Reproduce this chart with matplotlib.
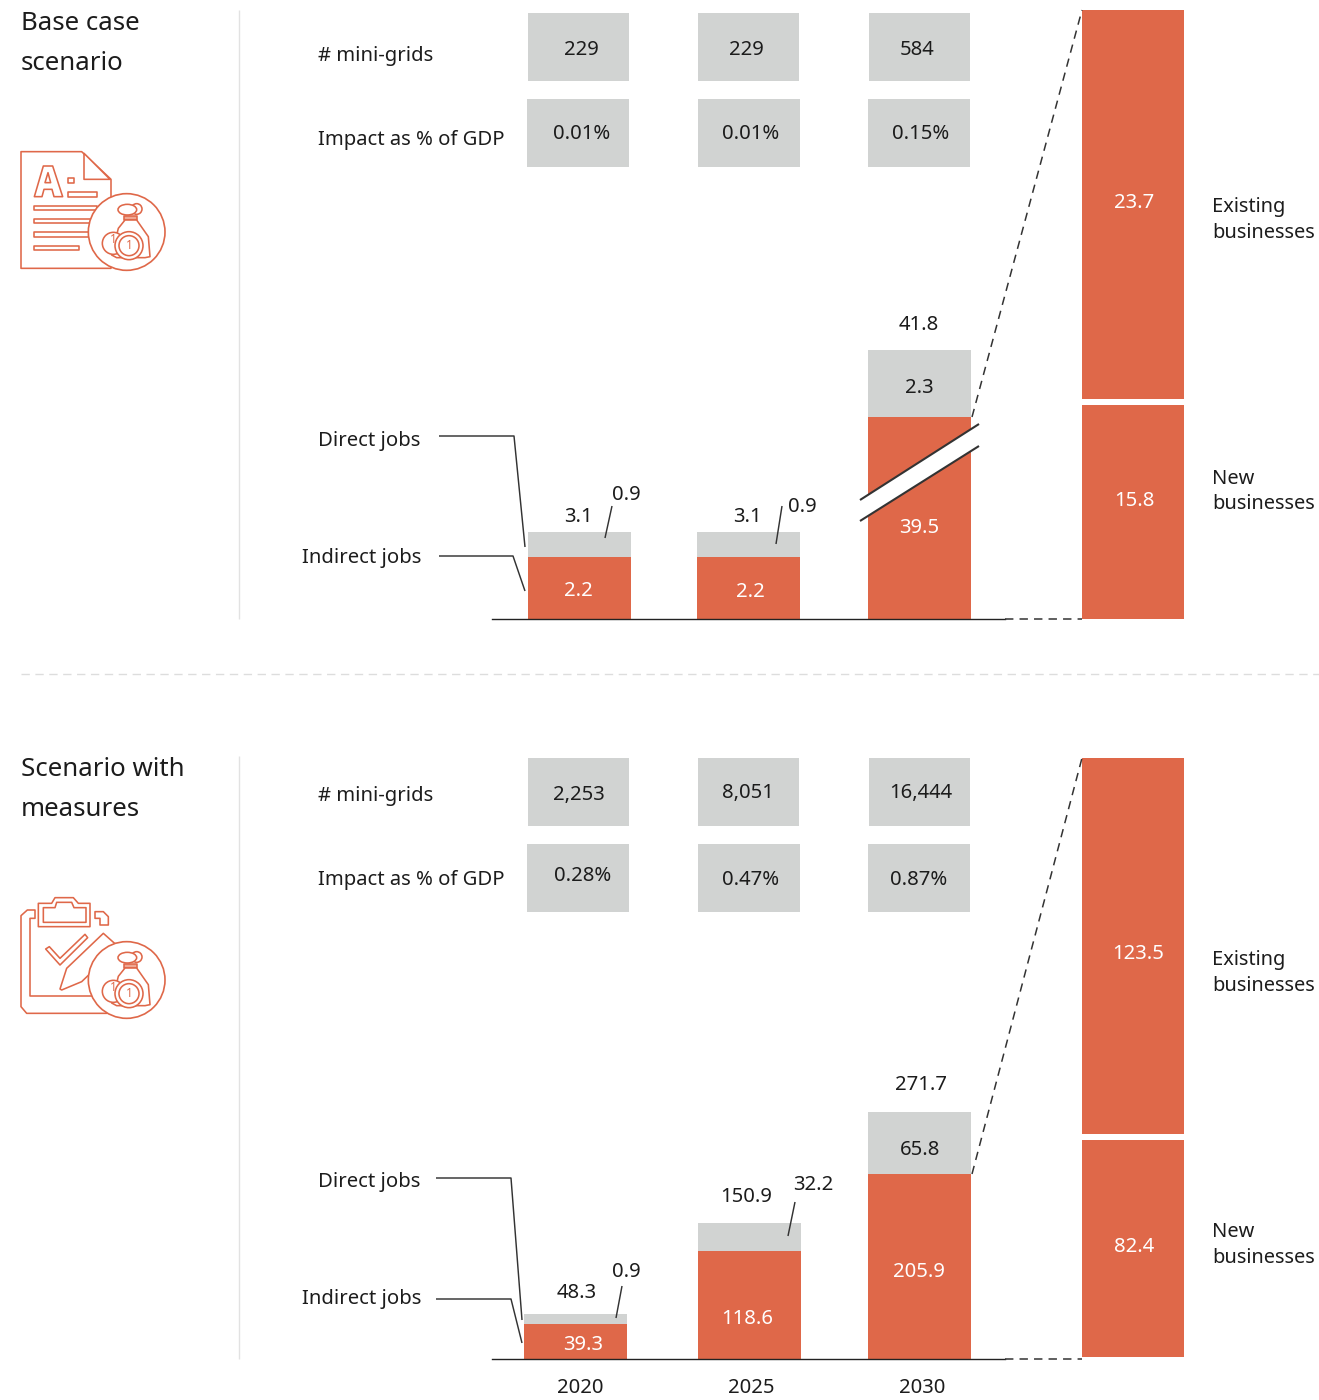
import numpy as np
import matplotlib
matplotlib.use("Agg")
import matplotlib.pyplot as plt
from matplotlib.patches import Rectangle, Polygon, Circle, Ellipse

# ---------- data ----------
years = ["2020", "2025", "2030"]
grid_labels = ["# mini-grids", "Impact as % of GDP"]
base_grids = ["229", "229", "584"]
base_gdp = ["0.01%", "0.01%", "0.15%"]
meas_grids = ["2,253", "8,051", "16,444"]
meas_gdp = ["0.28%", "0.47%", "0.87%"]

base_total = [3.1, 3.1, 41.8]
base_indirect = [2.2, 2.2, 39.5]
base_direct = [0.9, 0.9, 2.3]
base_new = 15.8
base_existing = 23.7

meas_total = [48.3, 150.9, 271.7]
meas_indirect = [39.3, 118.6, 205.9]
meas_direct = [0.9, 32.2, 65.8]
meas_new = 82.4
meas_existing = 123.5

# ---------- style ----------
W, H = 1319, 1400
ORANGE = "#DF6849"
GRAY = "#D1D3D2"
INK = "#1c1c1c"
LINE = "#333333"
plt.rcParams["font.family"] = ["Noto Sans", "DejaVu Sans"]
FS = 14.6

fig = plt.figure(figsize=(W / 100, H / 100), dpi=100, facecolor="white")


def axpx(x0, y0, x1, y1):
    """Axes from pixel box (y measured from the top)."""
    return fig.add_axes([x0 / W, 1 - y1 / H, (x1 - x0) / W, (y1 - y0) / H])


def main_chart(y_top, y_base, knots_v, knots_px, total, indirect, centers, show_years):
    ax = axpx(492, y_top, 1005, y_base)
    ax.patch.set_alpha(0)
    fwd = lambda v: np.interp(v, knots_v, knots_px)
    inv = lambda p: np.interp(p, knots_px, knots_v)
    ax.set_yscale("function", functions=(fwd, inv))
    ax.set_ylim(0, total[-1])
    ax.set_xlim(492, 1005)
    d = np.array(total) - np.array(indirect)
    ax.bar(centers, indirect, width=102.5, color=ORANGE, linewidth=0)
    ax.bar(centers, d, bottom=indirect, width=102.5, color=GRAY, linewidth=0)
    for s in ["top", "left", "right"]:
        ax.spines[s].set_visible(False)
    ax.spines["bottom"].set_color("#222222")
    ax.spines["bottom"].set_linewidth(1.0)
    ax.set_yticks([])
    ax.minorticks_off()
    ax.yaxis.set_tick_params(which="both", length=0, labelleft=False)
    if show_years:
        ax.set_xticks([580, 751, 922], years)
        ax.tick_params(axis="x", length=0, pad=14, labelsize=FS, labelcolor=INK)
    else:
        ax.set_xticks([])
    return ax


main_chart(350, 619, [0, 2.2, 3.1, 39.5, 41.8], [0, 62, 87, 202, 269],
           base_total, base_indirect, [579.5, 748.5, 919.5], False)
main_chart(1112, 1359, [0, 39.3, 48.3, 205.9, 271.7], [0, 35.3, 45.5, 185, 247],
           meas_total, meas_indirect, [575.5, 749.5, 919.5], True)


def segment(y0, y1, value):
    ax = axpx(1082, y0, 1184, y1)
    ax.bar([0], [value], width=1, color=ORANGE, linewidth=0)
    ax.set_xlim(-0.5, 0.5)
    ax.set_ylim(0, value)
    ax.axis("off")


segment(10, 399, base_existing)
segment(405, 619, base_new)
segment(758, 1134, meas_existing)
segment(1140, 1357, meas_new)

# overlay in pixel coordinates
ov = fig.add_axes([0, 0, 1, 1])
ov.set_xlim(0, W)
ov.set_ylim(H, 0)
ov.axis("off")
ov.patch.set_alpha(0)


def T(x, y, s, ha="center", c=INK, fs=FS):
    ov.text(x, y + 2, s, ha=ha, va="center", color=c, fontsize=fs)


def L(xs, ys, c=LINE, lw=1.05, **k):
    ov.plot(xs, ys, color=c, lw=lw, solid_capstyle="butt", **k)


def box(x0, y0, x1, y1):
    ov.add_patch(Rectangle((x0, y0), x1 - x0, y1 - y0, fc=GRAY, ec="none"))


# panel furniture
T(21, 21, "Base case", ha="left", fs=18.6)
T(21, 61, "scenario", ha="left", fs=18.6)
T(21, 767, "Scenario with", ha="left", fs=18.6)
T(21, 807, "measures", ha="left", fs=18.6)
L([239, 239], [10, 619], c="#e2e2e2", lw=1.0)
L([239, 239], [756, 1359], c="#e2e2e2", lw=1.0)
L([21, 1319], [674, 674], c="#dddddd", lw=1.0, ls=(0, (6, 4)))

# table boxes
r1x = [(528, 629), (698, 799), (869, 970)]
r2x = [(527, 629), (698, 800), (868, 970)]
for (y1, y2) in [(13, 99), (758, 844)]:
    for a, b in r1x:
        box(a, y1, b, y1 + 68)
    for a, b in r2x:
        box(a, y2, b, y2 + 68)

T(318, 54, grid_labels[0], ha="left")
T(318, 138, grid_labels[1], ha="left")
T(318, 794, grid_labels[0], ha="left")
T(318, 878, grid_labels[1], ha="left")
for x, s in zip([581, 746, 917], base_grids):
    T(x, 48, s)
for x, s in zip([582, 751, 921], base_gdp):
    T(x, 132, s)
for x, y, s in zip([579, 748, 921], [793, 791, 791], meas_grids):
    T(x, y, s)
for x, y, s in zip([583, 751, 919], [874, 878, 878], meas_gdp):
    T(x, y, s)

# bar labels, top panel
for x, y, v in zip([578, 747, 919], [515, 515, 323], base_total):
    T(x, y, f"{v:.1f}")
for x, y, v in zip([578, 750, 919], [589, 590, 526], base_indirect):
    T(x, y, f"{v:.1f}", c="white")
T(626, 493, f"{base_direct[0]:.1f}")
T(802, 505, f"{base_direct[1]:.1f}")
T(919, 386, f"{base_direct[2]:.1f}")
L([612, 605], [506, 538])
L([782, 776], [506, 544])

# bar labels, lower panel
for x, y, v in zip([577, 746, 921], [1291, 1195, 1083], meas_total):
    T(x, y, f"{v:.1f}")
for x, y, v in zip([583, 747, 919], [1343, 1317, 1270], meas_indirect):
    T(x, y, f"{v:.1f}", c="white")
T(626, 1270, f"{meas_direct[0]:.1f}")
T(813, 1183, f"{meas_direct[1]:.1f}")
T(920, 1148, f"{meas_direct[2]:.1f}")
L([622, 616], [1286, 1318])
L([795, 788], [1202, 1236])

# breakout labels
T(1134, 201, f"{base_existing:.1f}", c="white")
T(1134, 499, f"{base_new:.1f}", c="white")
T(1138, 952, f"{meas_existing:.1f}", c="white")
T(1134, 1245, f"{meas_new:.1f}", c="white")
for y1, y2, word in [(205, 231, "Existing"), (477, 502, "New"),
                     (958, 984, "Existing"), (1230, 1256, "New")]:
    T(1212, y1, word, ha="left", fs=14.4)
    T(1212, y2, "businesses", ha="left", fs=14.4)

# series call-outs
T(318, 439, "Direct jobs", ha="left")
T(302, 556, "Indirect jobs", ha="left")
T(318, 1180, "Direct jobs", ha="left")
T(302, 1297, "Indirect jobs", ha="left")
L([439, 514, 525], [436, 436, 547])
L([439, 513, 525], [556, 556, 591])
L([436, 511, 522], [1178, 1178, 1320])
L([436, 511, 522], [1299, 1299, 1343])

# axis break and connectors
ov.add_patch(Polygon([(860, 500), (979, 424), (979, 446), (860, 521)], fc="white", ec="none"))
L([860, 979], [500, 424], lw=1.5)
L([860, 979], [521, 446], lw=1.5)
dash = (0, (5.5, 4))
L([972, 1082], [417, 10], lw=1.1, ls=dash)
L([972, 1082], [1174, 758], lw=1.1, ls=dash)
L([1005, 1082], [619, 619], lw=1.1, ls=dash)
L([1005, 1082], [1359, 1359], lw=1.1, ls=dash)


# ---------- icons (coordinates from a 3x view) ----------
ICON_LW = 1.15


def Z(pts, ox, oy):
    return [(ox + p[0] / 3, oy + p[1] / 3) for p in pts]


def outline(pts, ox, oy, closed=True, fc="white", lw=ICON_LW):
    ov.add_patch(Polygon(Z(pts, ox, oy), closed=closed, fc=fc if closed else "none",
                         ec=ORANGE, lw=lw, joinstyle="round"))


def bag(ox, oy):
    ov.add_patch(Circle((ox + 350 / 3, oy + 276 / 3), 115 / 3, fc="white", ec=ORANGE, lw=1.2))
    ov.add_patch(Circle((ox + 380 / 3, oy + 207 / 3), 16 / 3, fc="white", ec=ORANGE, lw=ICON_LW))
    ov.add_patch(Ellipse((ox + 352 / 3, oy + 209 / 3), 56 / 3, 32 / 3, fc="white", ec=ORANGE, lw=ICON_LW))
    outline([(342, 228), (382, 228), (382, 240), (342, 240)], ox, oy, fc="#EFA894")
    outline([(345, 240), (380, 240), (415, 290), (420, 350), (405, 353), (320, 353),
             (305, 345), (325, 265)], ox, oy)
    ov.add_patch(Circle((ox + 310 / 3, oy + 310 / 3), 33 / 3, fc="white", ec=ORANGE, lw=ICON_LW))
    ov.add_patch(Circle((ox + 357 / 3, oy + 317 / 3), 42 / 3, fc="white", ec=ORANGE, lw=ICON_LW))
    ov.add_patch(Circle((ox + 357 / 3, oy + 317 / 3), 30 / 3, fc="white", ec=ORANGE, lw=ICON_LW))
    ov.text(ox + 357 / 3, oy + 317 / 3, "1", color=ORANGE, fontsize=8.5, ha="center", va="center", weight="bold")
    ov.text(ox + 311 / 3, oy + 298 / 3, "1", color=ORANGE, fontsize=8.5, ha="center", va="center", weight="bold")


# document icon
ox, oy = 10, 140
outline([(33, 35), (215, 35), (303, 118), (303, 385), (33, 385)], ox, oy)
outline([(222, 40), (300, 118), (222, 118)], ox, oy)
outline([(73, 170), (100, 78), (128, 78), (158, 170), (132, 170), (126, 148), (102, 148), (96, 170)], ox, oy)
outline([(105, 128), (114, 98), (122, 128)], ox, oy)
for a, b, c, d in [(175, 115, 193, 130), (175, 157, 262, 170), (73, 197, 262, 210),
                   (73, 236, 262, 250), (73, 277, 262, 290), (73, 317, 208, 330)]:
    outline([(a, b), (c, b), (c, d), (a, d)], ox, oy)
bag(ox, oy)

# clipboard icon
ox, oy = 10, 885
outline([(75, 75), (52, 75), (33, 92), (33, 365), (50, 385), (290, 385), (290, 333),
         (60, 333), (60, 100), (75, 100)], ox, oy)
outline([(85, 55), (125, 55), (135, 38), (190, 38), (205, 55), (240, 55), (240, 125), (85, 125)], ox, oy)
outline([(100, 68), (135, 68), (140, 52), (185, 52), (192, 68), (228, 68), (228, 112), (100, 112)], ox, oy)
outline([(255, 80), (280, 80), (295, 95), (295, 120), (270, 120), (270, 100), (255, 100)], ox, oy)
outline([(107, 192), (118, 185), (150, 220), (225, 148), (233, 158), (150, 240)], ox, oy)
outline([(150, 312), (170, 250), (280, 145), (325, 185), (215, 290), (155, 315)], ox, oy)
bag(ox, oy + 3)

fig.savefig("out.png", dpi=100, facecolor="white")
